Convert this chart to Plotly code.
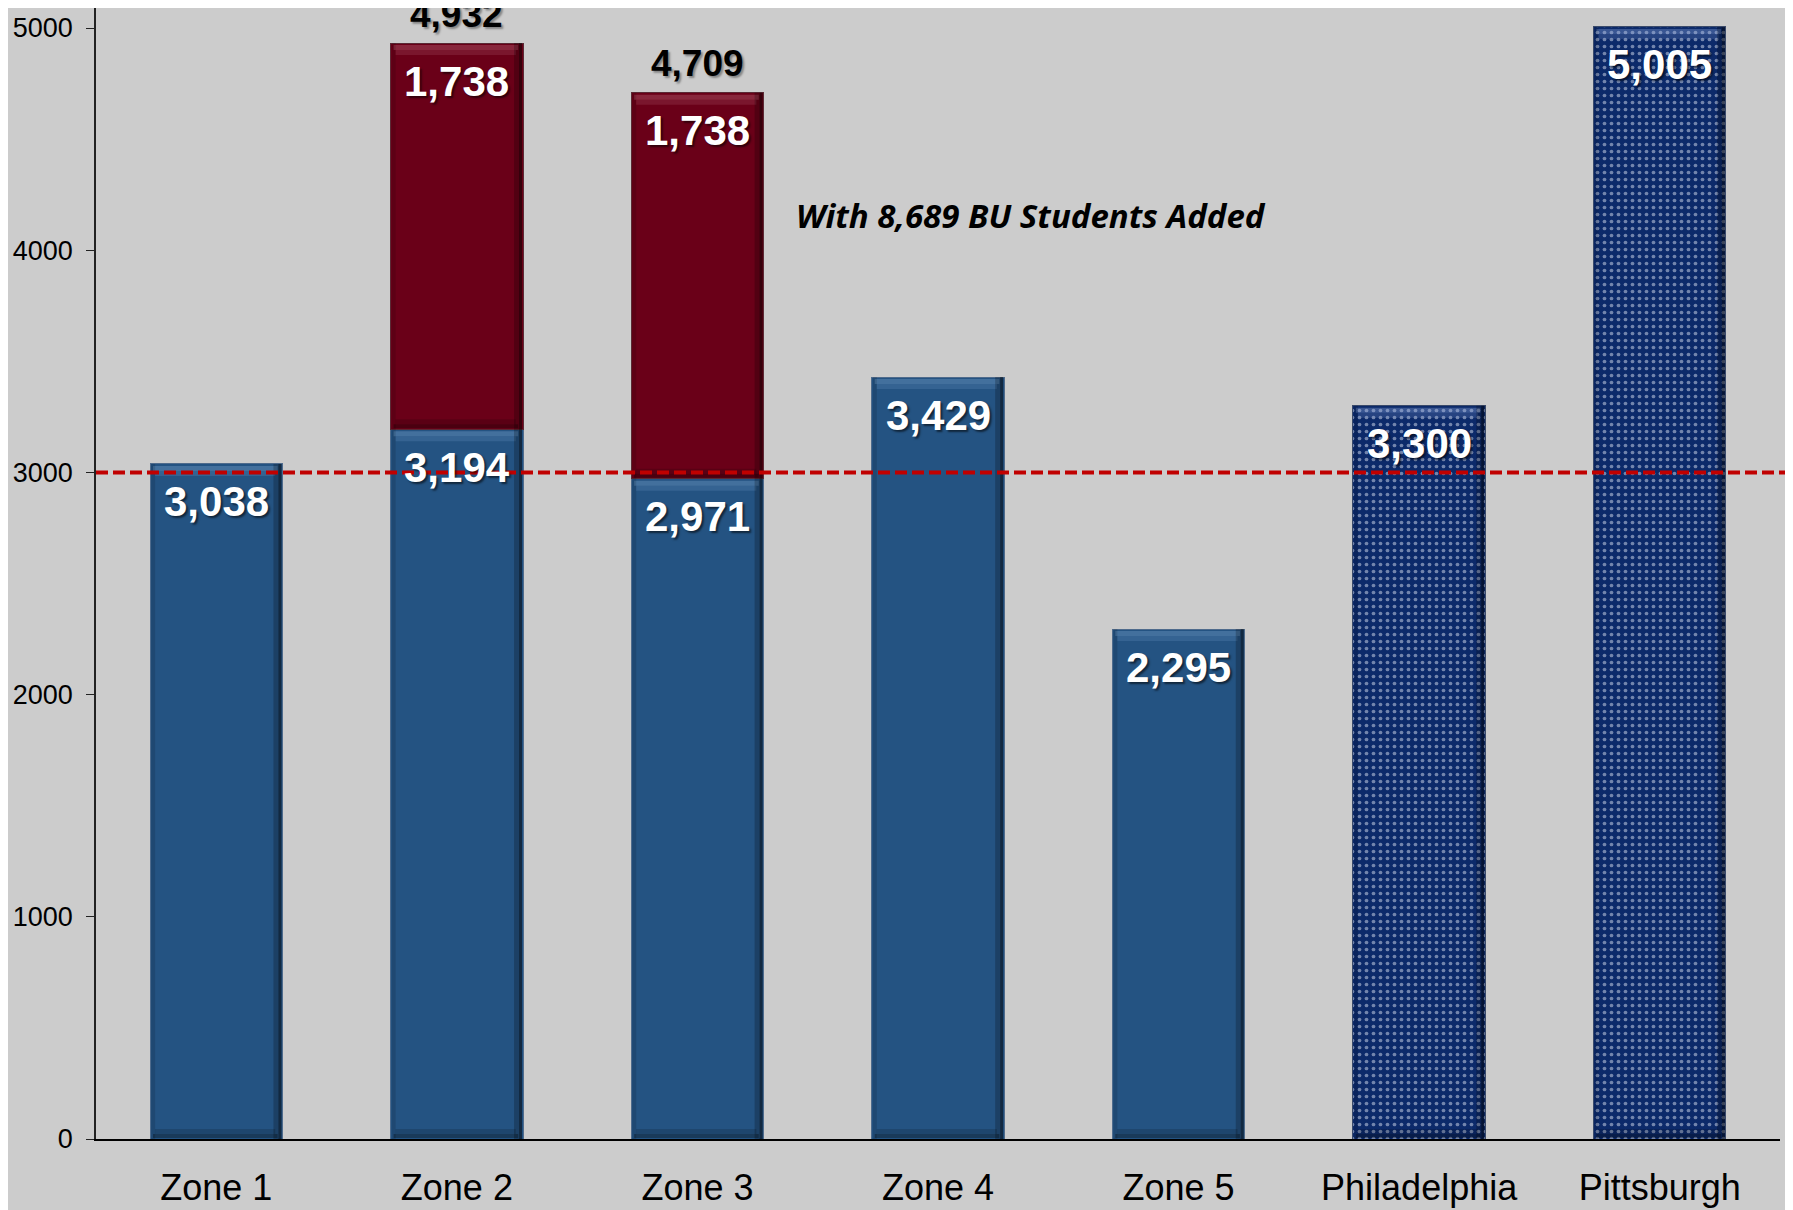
import plotly.graph_objects as go

categories = ["Zone 1", "Zone 2", "Zone 3", "Zone 4", "Zone 5", "Philadelphia", "Pittsburgh"]
zone_base = [3038, 3194, 2971, 3429, 2295, None, None]
bu_added = [None, 1738, 1738, None, None, None, None]
city_values = [None, None, None, None, None, 3300, 5005]
threshold = 3000
y_ticks = [0, 1000, 2000, 3000, 4000, 5000]
note_text = "With 8,689 BU Students Added"

BLUE = "#245382"
RED = "#6A0018"
NAVY = "#0C2A6A"
BG = "#CCCCCC"
BAR_W = 0.55

fig = go.Figure()
fig.add_bar(x=categories, y=zone_base, width=BAR_W,
            marker=dict(color=BLUE, line=dict(color="#4F6B8C", width=1)), name="Zone")
fig.add_bar(x=categories, y=bu_added, width=BAR_W,
            marker=dict(color=RED, line=dict(color="#5A2A35", width=1)), name="BU")
fig.add_bar(x=categories, y=city_values, width=BAR_W,
            marker=dict(color=NAVY, line=dict(color="#3A4A6A", width=1),
                        pattern=dict(shape=".", fgcolor="#D8E0F0", bgcolor=NAVY, size=7, solidity=0.22)),
            name="City")

label_font = dict(family="Liberation Sans, Arial", size=42, color="white", weight="bold",
                  shadow="2px 2px 2px rgba(0,0,0,0.55)")
total_font = dict(family="Liberation Sans, Arial", size=37, color="black", weight="bold",
                  shadow="2px 2px 2px rgba(0,0,0,0.35)")

annotations = []
shapes = []


def bevel(i, lo, hi, light):
    x0, x1 = i - BAR_W / 2, i + BAR_W / 2
    # top highlight bands (soft gradient)
    shapes.append(dict(type="rect", xref="x", yref="y", x0=x0 + 0.012, x1=x1 - 0.02,
                       ysizemode="pixel", yanchor=hi, y0=-2, y1=-7,
                       fillcolor=light, opacity=0.35, line_width=0, layer="above"))
    shapes.append(dict(type="rect", xref="x", yref="y", x0=x0 + 0.02, x1=x1 - 0.03,
                       ysizemode="pixel", yanchor=hi, y0=-7, y1=-12,
                       fillcolor=light, opacity=0.2, line_width=0, layer="above"))
    # bottom dark band
    shapes.append(dict(type="rect", xref="x", yref="y", x0=x0 + 0.012, x1=x1 - 0.02,
                       ysizemode="pixel", yanchor=lo, y0=1, y1=5,
                       fillcolor="black", opacity=0.3, line_width=0, layer="above"))
    shapes.append(dict(type="rect", xref="x", yref="y", x0=x0 + 0.02, x1=x1 - 0.03,
                       ysizemode="pixel", yanchor=lo, y0=5, y1=10,
                       fillcolor="black", opacity=0.15, line_width=0, layer="above"))
    # right dark edge
    shapes.append(dict(type="rect", xref="x", yref="y", xsizemode="pixel", xanchor=x1,
                       x0=-9, x1=-1, y0=lo, y1=hi,
                       fillcolor="black", opacity=0.22, line_width=0, layer="above"))
    shapes.append(dict(type="rect", xref="x", yref="y", xsizemode="pixel", xanchor=x1,
                       x0=-4, x1=-1, y0=lo, y1=hi,
                       fillcolor="black", opacity=0.35, line_width=0, layer="above"))
    # left faint edge
    shapes.append(dict(type="rect", xref="x", yref="y", xsizemode="pixel", xanchor=x0,
                       x0=1, x1=5, y0=lo, y1=hi,
                       fillcolor="black", opacity=0.12, line_width=0, layer="above"))


for i, c in enumerate(categories):
    base = zone_base[i]
    add = bu_added[i]
    city = city_values[i]
    if base is not None:
        bevel(i, 0, base, "#7FA6D0")
        annotations.append(dict(x=c, y=base, text=f"{base:,}", showarrow=False, yanchor="middle",
                                yshift=-38, font=label_font))
    if add is not None:
        total = base + add
        bevel(i, base, total, "#C07080")
        annotations.append(dict(x=c, y=total, text=f"{add:,}", showarrow=False, yanchor="middle",
                                yshift=-38, font=label_font))
        annotations.append(dict(x=c, y=total, text=f"{total:,}", showarrow=False, yanchor="middle",
                                yshift=29, font=total_font))
    if city is not None:
        bevel(i, 0, city, "#8FA8E0")
        annotations.append(dict(x=c, y=city, text=f"{city:,}", showarrow=False, yanchor="middle",
                                yshift=-38, font=label_font))

annotations.append(dict(xref="paper", yref="y", x=0.555, y=4158, text=note_text, showarrow=False,
                        font=dict(family="Open Sans", size=33, color="black", weight="bold", style="italic")))

shapes.append(dict(type="line", xref="paper", yref="y", x0=0, x1=1.01, y0=threshold, y1=threshold,
                   line=dict(color="#C00000", width=4, dash="12px,5px"), layer="above"))

fig.update_layout(
    width=1793, height=1210,
    margin=dict(l=88, r=21, t=0, b=79, autoexpand=False),
    paper_bgcolor=BG, plot_bgcolor=BG,
    barmode="stack", showlegend=False,
    annotations=annotations,
    shapes=shapes,
)
fig.update_xaxes(showline=True, linecolor="black", linewidth=1.5, ticks="", showgrid=False,
                 range=[-0.5, 6.5],
                 tickfont=dict(family="Liberation Sans, Arial", size=36, color="black"),
                 ticklabelstandoff=16)
fig.update_yaxes(range=[0, 5090], tickvals=y_ticks, showline=True, linecolor="#222222", linewidth=1.5,
                 ticks="outside", ticklen=8, tickcolor="#222222", showgrid=False, zeroline=False,
                 tickfont=dict(family="Liberation Sans, Arial", size=27, color="black"),
                 ticklabelstandoff=8)

fig.write_html("out.html")
